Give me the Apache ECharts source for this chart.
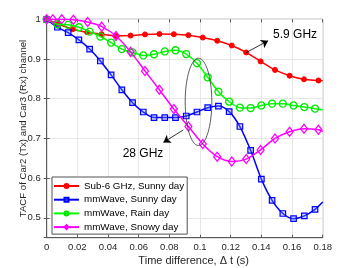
<!DOCTYPE html>
<html><head><meta charset="utf-8">
<script src="https://cdn.jsdelivr.net/npm/echarts@6/dist/echarts.min.js"></script>
<style>html,body{margin:0;padding:0;background:#fff}#c{width:357px;height:268px}</style>
</head><body><div id="c"></div>
<script>
// ---- data ----
const seriesNames = ['Sub-6 GHz, Sunny day', 'mmWave, Sunny day', 'mmWave, Rain day', 'mmWave, Snowy day'];
const xTicks = [0, 0.02, 0.04, 0.06, 0.08, 0.1, 0.12, 0.14, 0.16, 0.18];
const yTicks = [0.5, 0.6, 0.7, 0.8, 0.9, 1];
const xAxisTitle = 'Time difference, \u0394 t (s)';
const yAxisTitle = 'TACF of Car2 (Tx) and Car3 (Rx) channel';

const xSub6 = [0, 0.0075, 0.0169, 0.0264, 0.0358, 0.0452, 0.0547, 0.0641, 0.0735, 0.0829, 0.0924, 0.1018, 0.1112, 0.1207, 0.1301, 0.1395, 0.1489, 0.1584, 0.1678, 0.1772];
const ySub6Sunny = [1.0, 0.988, 0.975, 0.9675, 0.9625, 0.958, 0.959, 0.962, 0.963, 0.9625, 0.96, 0.954, 0.946, 0.934, 0.9165, 0.894, 0.8725, 0.858, 0.849, 0.846];
const ySub6End = 0.845;

const xMm = [0, 0.007, 0.014, 0.021, 0.028, 0.035, 0.042, 0.049, 0.056, 0.063, 0.07, 0.077, 0.084, 0.091, 0.098, 0.105, 0.112, 0.119, 0.126, 0.133, 0.14, 0.147, 0.154, 0.161, 0.168, 0.175];
const yMmSunny = [1.0, 0.98, 0.9665, 0.948, 0.925, 0.895, 0.86, 0.8225, 0.79, 0.7665, 0.7525, 0.7525, 0.7525, 0.7565, 0.7665, 0.7775, 0.7815, 0.7675, 0.73, 0.67, 0.5975, 0.544, 0.511, 0.498, 0.505, 0.5215];
const yMmSunnyEnd = 0.54;
const yMmRain = [1.0, 0.9875, 0.986, 0.98, 0.969, 0.9565, 0.9415, 0.925, 0.9165, 0.909, 0.912, 0.919, 0.922, 0.9125, 0.8895, 0.854, 0.8175, 0.7925, 0.7775, 0.7765, 0.783, 0.7875, 0.7875, 0.783, 0.779, 0.775];
const yMmRainEnd = 0.7725;

const xSnow = [0, 0.004, 0.0098, 0.0174, 0.0267, 0.0359, 0.0452, 0.0547, 0.0641, 0.0735, 0.0829, 0.0924, 0.1018, 0.1112, 0.1207, 0.1301, 0.1395, 0.1489, 0.1584, 0.1678, 0.1772];
const yMmSnowy = [1.0, 1.0, 1.0, 0.999, 0.993, 0.9815, 0.958, 0.918, 0.87, 0.8225, 0.774, 0.73, 0.686, 0.654, 0.642, 0.648, 0.671, 0.70, 0.717, 0.7245, 0.722];
const yMmSnowyEnd = 0.7175;

const xEnd = 0.18;

// annotations (data coordinates)
const label59 = {text: '5.9 GHz', at: [0.162, 0.961]};
const arrow59 = [[0.130, 0.916], [0.1444, 0.946]];
const label28 = {text: '28 GHz', at: [0.0628, 0.661]};
const arrow28 = [[0.0891, 0.7215], [0.0761, 0.690]];
const ellipseC = [0.0990, 0.792];
const ellipseR = [0.00868, 0.110];

// ---- build ----
function pts(xs, ys, endY) {
  const d = xs.map((x, i) => [x, ys[i]]);
  d.push({value: [xEnd, endY], symbol: 'none'});
  return d;
}
const AX = '#5a5a5a';
const TXT = '#262626';
const FONT = 'Liberation Sans, Arial, Helvetica, sans-serif';

function arrowML(a) {
  return {
    silent: true, symbol: ['none', 'arrow'], symbolSize: 7,
    lineStyle: {color: '#000', width: 0.8, type: 'solid'},
    label: {show: false}, emphasis: {disabled: true},
    data: [[{coord: a[0]}, {coord: a[1]}]]
  };
}

const chart = echarts.init(document.getElementById('c'), null, {renderer: 'canvas'});
const option = {
  animation: false,
  grid: {left: 46.7, right: 34.3, top: 19.3, bottom: 30.3, show: true, borderColor: AX, borderWidth: 1, backgroundColor: '#fff'},
  legend: {
    orient: 'vertical', left: 52, top: 177,
    itemWidth: 25, itemHeight: 5, itemGap: 3.7,
    padding: [4, 3, 2, 1],
    backgroundColor: '#fff', borderColor: '#262626', borderWidth: 0.8,
    textStyle: {fontSize: 9.8, color: '#000', fontFamily: FONT, lineHeight: 10},
    data: seriesNames
  },
  xAxis: [{
    type: 'value', min: 0, max: 0.18, interval: 0.02,
    axisLine: {lineStyle: {color: AX, width: 1}},
    axisTick: {inside: true, length: 3, lineStyle: {color: AX}},
    axisLabel: {fontSize: 9.5, color: TXT, fontFamily: FONT, margin: 5,
      formatter: v => { const t = xTicks.find(k => Math.abs(k - v) < 1e-9); return t === undefined ? '' : String(t); }},
    splitLine: {show: true, lineStyle: {color: '#e6e6e6', width: 1}}
  }, {
    type: 'value', position: 'top', min: 0, max: 0.18, interval: 0.02,
    axisLine: {show: false}, axisTick: {inside: true, length: 3, lineStyle: {color: AX}},
    axisLabel: {show: false}, splitLine: {show: false}
  }],
  yAxis: [{
    type: 'value', min: 0.45, max: 1, splitNumber: 5,
    axisLine: {show: true, lineStyle: {color: AX, width: 1}},
    axisTick: {show: true, inside: true, length: 3, lineStyle: {color: AX}},
    axisLabel: {fontSize: 9.5, color: TXT, fontFamily: FONT, margin: 6, showMinLabel: false,
      formatter: v => { const t = yTicks.find(k => Math.abs(k - v) < 1e-9); return t === undefined ? '' : String(t); }},
    splitLine: {show: true, lineStyle: {color: '#e6e6e6', width: 1}}
  }, {
    type: 'value', position: 'right', min: 0.45, max: 1, splitNumber: 5,
    axisLine: {show: false}, axisTick: {show: true, inside: true, length: 3, lineStyle: {color: AX}},
    axisLabel: {show: false}, splitLine: {show: false}
  }],
  series: [
    {
      name: seriesNames[0], type: 'line', smooth: 0.3, data: pts(xSub6, ySub6Sunny, ySub6End),
      symbol: 'circle', symbolSize: 5, showAllSymbol: true,
      lineStyle: {color: '#ff0000', width: 1.5},
      itemStyle: {color: '#ff0000', borderColor: '#ff0000', borderWidth: 1},
      markLine: arrowML(arrow59), z: 3
    },
    {
      name: seriesNames[1], type: 'line', smooth: 0.3, data: pts(xMm, yMmSunny, yMmSunnyEnd),
      symbol: 'rect', symbolSize: 5.5, showAllSymbol: true,
      lineStyle: {color: '#0000ff', width: 1.5},
      itemStyle: {color: 'rgba(120,140,255,0.35)', borderColor: '#0000ff', borderWidth: 1.2}, z: 4
    },
    {
      name: seriesNames[2], type: 'line', smooth: 0.3, data: pts(xMm, yMmRain, yMmRainEnd),
      symbol: 'circle', symbolSize: 7, showAllSymbol: true,
      lineStyle: {color: '#00ff00', width: 1.5},
      itemStyle: {color: 'rgba(0,255,0,0)', borderColor: '#00e600', borderWidth: 1.3}, z: 5
    },
    {
      name: seriesNames[3], type: 'line', smooth: 0.3, data: pts(xSnow, yMmSnowy, yMmSnowyEnd),
      symbol: 'diamond', symbolSize: [7, 9], showAllSymbol: true,
      lineStyle: {color: '#ff00ff', width: 1.5},
      itemStyle: {color: 'rgba(255,0,255,0)', borderColor: '#ff00ff', borderWidth: 1.3},
      markLine: arrowML(arrow28), z: 6
    }
  ]
};
chart.setOption(option);

function px(p) { return chart.convertToPixel({gridIndex: 0}, p); }
const c = px(ellipseC);
const e1 = px([ellipseC[0] + ellipseR[0], ellipseC[1] + ellipseR[1]]);
const t59 = px(label59.at);
const t28 = px(label28.at);
const bl = px([0, 0.45]);
const tr = px([0.18, 1]);
chart.setOption({
  graphic: [
    {type: 'ellipse', shape: {cx: c[0], cy: c[1], rx: Math.abs(e1[0] - c[0]), ry: Math.abs(e1[1] - c[1])},
     style: {fill: 'none', stroke: '#333', lineWidth: 0.8}, z: 100, silent: true},
    {type: 'text', x: t59[0], y: t59[1], style: {text: label59.text, fill: '#000', font: '12px ' + FONT, textAlign: 'center', textVerticalAlign: 'middle'}, z: 100},
    {type: 'text', x: t28[0], y: t28[1], style: {text: label28.text, fill: '#000', font: '12px ' + FONT, textAlign: 'center', textVerticalAlign: 'middle'}, z: 100},
    {type: 'text', x: (bl[0] + tr[0]) / 2 + 9, y: bl[1] + 23, style: {text: xAxisTitle, fill: TXT, font: '11px ' + FONT, textAlign: 'center', textVerticalAlign: 'middle'}, z: 100},
    {type: 'text', x: bl[0] - 23.7, y: (bl[1] + tr[1]) / 2, rotation: Math.PI / 2, style: {text: yAxisTitle, fill: TXT, font: '9.6px ' + FONT, textAlign: 'center', textVerticalAlign: 'middle'}, z: 100}
  ]
});
</script>
</body></html>
